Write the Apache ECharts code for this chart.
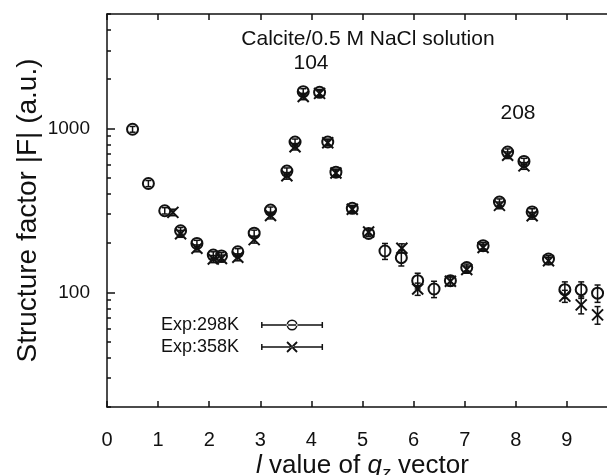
<!DOCTYPE html>
<html><head><meta charset="utf-8">
<script src="https://cdn.jsdelivr.net/npm/echarts@6/dist/echarts.min.js"></script>
<style>html,body{margin:0;padding:0;background:#fff}#c{width:607px;height:475px}</style>
</head><body><div id="c"></div>
<script>
// ---- data ----
const l298 = [0.50,0.81,1.13,1.44,1.76,2.08,2.24,2.56,2.88,3.20,3.52,3.68,3.84,4.16,4.32,4.48,4.80,5.12,5.44,5.76,6.08,6.40,6.72,7.04,7.36,7.68,7.84,8.16,8.32,8.64,8.96,9.28,9.60];
const F298 = [990,462,315,238,199,169,167,177,230,318,550,828,1680,1663,828,542,326,229,179,163,118,105,118,142,193,356,719,630,310,160,104,104,99];
const e298 = [40,20,14,11,9,8,8,8,10,14,25,35,70,70,35,24,14,10,20,18,13,12,8,7,9,16,32,28,14,8,12,12,12];
const l358 = [1.29,1.44,1.76,2.08,2.24,2.56,2.88,3.20,3.52,3.68,3.84,4.16,4.32,4.48,4.80,5.12,5.77,6.08,6.72,7.04,7.36,7.68,7.84,8.16,8.32,8.64,8.96,9.28,9.60];
const F358 = [308,228,186,160,161,164,210,295,515,775,1570,1640,820,535,322,234,186,105,117,138,188,340,688,592,294,156,95,84,73];
const e358 = [14,11,9,8,8,8,10,14,24,35,70,70,35,24,14,10,12,9,7,7,9,16,32,28,14,8,8,10,9];
const xTicks = [0,1,2,3,4,5,6,7,8,9];
const yLabels = [100,1000];
const yMinor = [20,30,40,50,60,70,80,90,200,300,400,500,600,700,800,900,2000,3000,4000,5000];
const seriesNames = ['Exp:298K','Exp:358K'];

const FONT = '"Liberation Sans", Arial, sans-serif';
const INK = '#111';

function pack(ls, fs, es){ return ls.map((l,i)=>[l, fs[i], es[i]]); }

function makeRender(kind){
  return function(params, api){
    const x = api.value(0), y = api.value(1), e = api.value(2);
    const c = api.coord([x,y]);
    const t = api.coord([x,y+e]);
    const b = api.coord([x,y-e]);
    const sl = {stroke: INK, lineWidth: 1.5};
    const ch = [
      {type:'line', shape:{x1:c[0],y1:t[1],x2:c[0],y2:b[1]}, style:sl},
      {type:'line', shape:{x1:c[0]-3,y1:t[1],x2:c[0]+3,y2:t[1]}, style:sl},
      {type:'line', shape:{x1:c[0]-3,y1:b[1],x2:c[0]+3,y2:b[1]}, style:sl}
    ];
    if(kind==='circle'){
      ch.push({type:'circle', shape:{cx:c[0],cy:c[1],r:5.5}, style:{fill:'none',stroke:INK,lineWidth:2}});
    } else {
      const h=5.5;
      ch.push({type:'line', shape:{x1:c[0]-h,y1:c[1]-h,x2:c[0]+h,y2:c[1]+h}, style:{stroke:INK,lineWidth:2}});
      ch.push({type:'line', shape:{x1:c[0]-h,y1:c[1]+h,x2:c[0]+h,y2:c[1]-h}, style:{stroke:INK,lineWidth:2}});
    }
    return {type:'group', children:ch};
  };
}

// legend icons (error-bar sample with symbol)
const barPath = 'M0,5.25L62,5.25L62,6.75L0,6.75Z M0,3L1.5,3L1.5,9L0,9Z M60.5,3L62,3L62,9L60.5,9Z ';
const iconCircle = 'path://' + barPath + 'M36.5,6A5.5,5.5,0,1,0,25.5,6A5.5,5.5,0,1,0,36.5,6Z M35,6A4,4,0,1,1,27,6A4,4,0,1,1,35,6Z';
const iconCross = 'path://' + barPath + 'M26.64,0.36L36.64,10.36L35.36,11.64L25.36,1.64Z M26.64,11.64L36.64,1.64L35.36,0.36L25.36,10.36Z';

const chart = echarts.init(document.getElementById('c'), null, {renderer:'canvas'});
const axisLineStyle = {color: INK, width: 1.5};
chart.setOption({
  animation:false,
  backgroundColor:'#fff',
  grid:{left:107, right:-11, top:14, bottom:68, containLabel:false, outerBoundsMode:'none'},
  title:{text:'Calcite/0.5 M NaCl solution', left:363, top:24, textAlign:'center',
    textStyle:{fontFamily:FONT, fontSize:21, fontWeight:'normal', color:INK}},
  graphic:[
    {type:'text', x:311, y:63, style:{text:'104', font:'21px '+FONT, fill:INK, textAlign:'center', textVerticalAlign:'middle'}},
    {type:'text', x:518, y:113, style:{text:'208', font:'21px '+FONT, fill:INK, textAlign:'center', textVerticalAlign:'middle'}}
  ],
  legend:{
    orient:'vertical', left:156, top:311, align:'right', itemGap:4,
    itemWidth:62, itemHeight:12,
    textStyle:{fontFamily:FONT, fontSize:18, color:INK, lineHeight:18, padding:[0,17,0,0]},
    itemStyle:{color:INK, borderWidth:0},
    data:[{name:seriesNames[0], icon:iconCircle},{name:seriesNames[1], icon:iconCross}]
  },
  xAxis:[
    {type:'value', min:0, max:10, interval:1, position:'bottom',
     name:'{i|l} value of {i|q}{s|z} vector', nameLocation:'middle', nameGap:42, nameMoveOverlap:false,
     nameTextStyle:{fontFamily:FONT, fontSize:26, color:INK, rich:{i:{fontStyle:'italic', fontFamily:FONT, fontSize:26, color:INK}, s:{fontStyle:'italic', fontFamily:FONT, fontSize:18, color:INK, padding:[16,0,0,0]}}},
     axisLine:{lineStyle:axisLineStyle}, axisTick:{inside:true, length:6, lineStyle:axisLineStyle},
     axisLabel:{customValues:xTicks, fontFamily:FONT, fontSize:20, color:INK, margin:23},
     splitLine:{show:false}},
    {type:'value', min:0, max:10, interval:1, position:'top',
     axisLine:{lineStyle:axisLineStyle}, axisTick:{inside:true, length:6, lineStyle:axisLineStyle},
     axisLabel:{show:false}, splitLine:{show:false}}
  ],
  yAxis:[
    {type:'log', min:20, max:5000, position:'left',
     name:'Structure factor |F| (a.u.)', nameLocation:'middle', nameGap:65, nameMoveOverlap:false,
     nameTextStyle:{fontFamily:FONT, fontSize:28, color:INK},
     axisLine:{show:true, lineStyle:axisLineStyle},
     axisTick:{inside:true, length:8, customValues:yLabels, lineStyle:axisLineStyle},
     axisLabel:{customValues:yLabels, formatter:function(v){return String(Math.round(v));}, fontFamily:FONT, fontSize:19, color:INK, margin:17},
     splitLine:{show:false}, minorTick:{show:false}},
    {type:'log', min:20, max:5000, position:'left',
     axisLine:{show:false},
     axisTick:{inside:true, length:4, customValues:yMinor, lineStyle:axisLineStyle},
     axisLabel:{show:false}, splitLine:{show:false}}
  ],
  series:[
    {name:seriesNames[0], type:'custom', xAxisIndex:0, yAxisIndex:0, itemStyle:{color:INK},
     renderItem:makeRender('circle'), data:pack(l298,F298,e298), encode:{x:0,y:1}},
    {name:seriesNames[1], type:'custom', xAxisIndex:0, yAxisIndex:0, itemStyle:{color:INK},
     renderItem:makeRender('cross'), data:pack(l358,F358,e358), encode:{x:0,y:1}}
  ]
});
</script></body></html>
